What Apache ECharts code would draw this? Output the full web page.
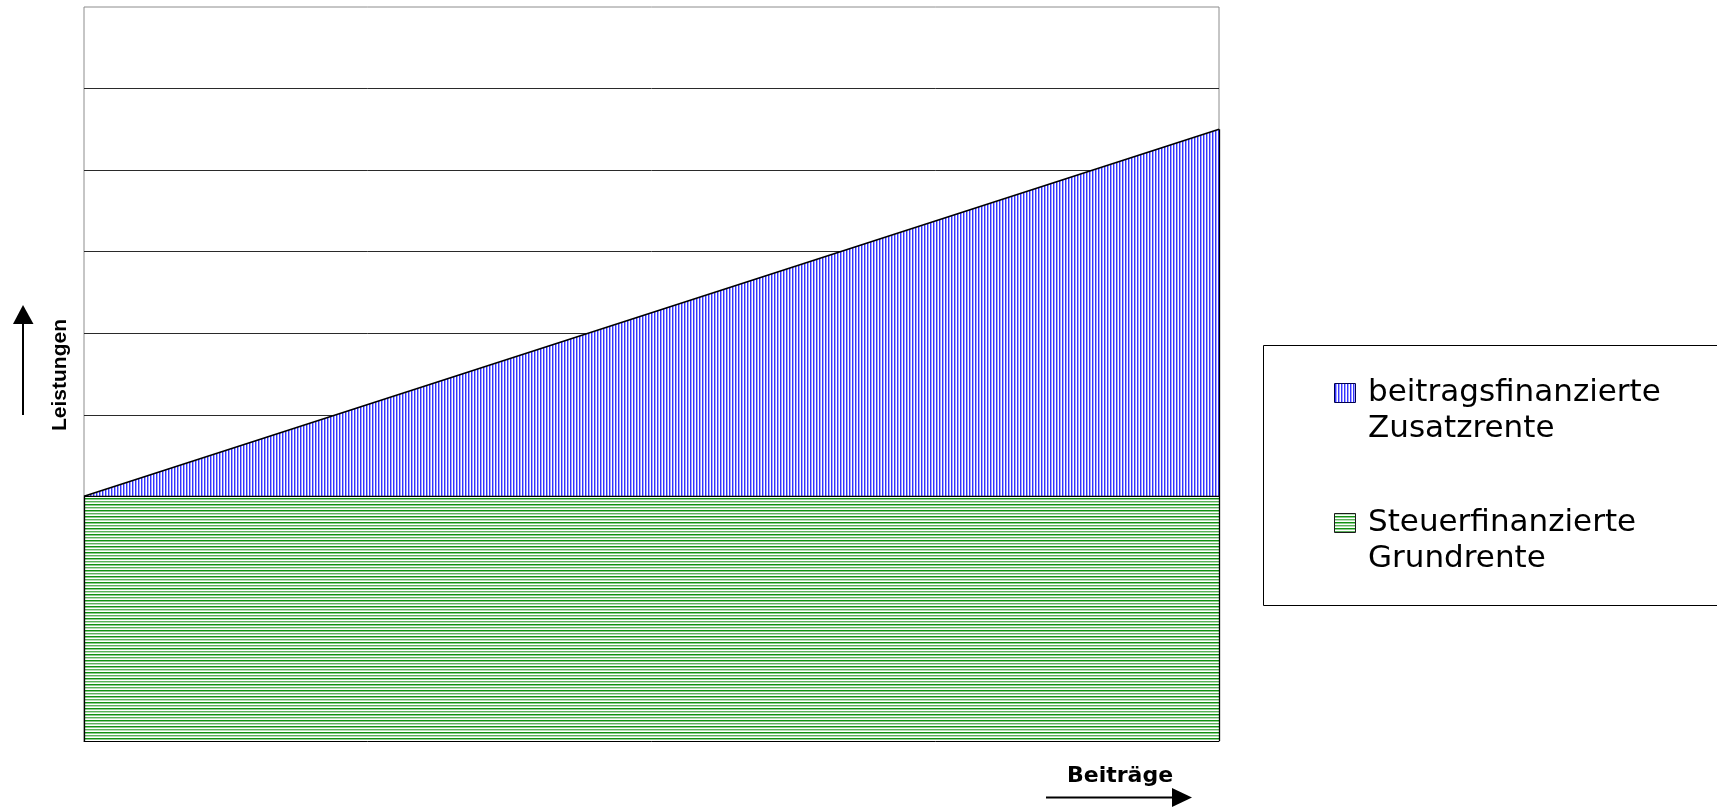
<!DOCTYPE html>
<html>
<head>
<meta charset="utf-8">
<script src="https://cdn.jsdelivr.net/npm/echarts@6/dist/echarts.min.js"></script>
<style>
html,body{margin:0;padding:0;background:#fff;}
#chart{width:1717px;height:808px;}
</style>
</head>
<body>
<div id="chart"></div>
<script>
// ---- data ----
const beitraege = ['niedrig', 'hoch'];          // x categories (not labelled)
const grundrente = [3, 3];                      // Steuerfinanzierte Grundrente
const zusatzrente = [0, 4.5];                   // beitragsfinanzierte Zusatzrente
const yMin = 0, yMax = 9, yStep = 1;
const legendLines = [
  ['beitragsfinanzierte', 'Zusatzrente'],
  ['Steuerfinanzierte', 'Grundrente']
];
const xAxisTitle = 'Beiträge';
const yAxisTitle = 'Leistungen';

// ---- patterns ----
function makePattern(w, h, draw) {
  const c = document.createElement('canvas');
  c.width = w; c.height = h;
  const ctx = c.getContext('2d');
  ctx.fillStyle = '#ffffff';
  ctx.fillRect(0, 0, w, h);
  draw(ctx);
  return c;
}
const bluePat = makePattern(3, 1, ctx => {
  ctx.fillStyle = '#3434ff'; ctx.fillRect(0, 0, 1, 1);
  ctx.fillStyle = '#a6a6ff'; ctx.fillRect(1, 0, 1, 1);
});
const greenPat = makePattern(1, 6, ctx => {
  ctx.fillStyle = '#119211'; ctx.fillRect(0, 0, 1, 1);
  ctx.fillStyle = '#8fcb8f'; ctx.fillRect(0, 1, 1, 1);
  ctx.fillStyle = '#5cb05c'; ctx.fillRect(0, 3, 1, 1);
  ctx.fillStyle = '#b9dfb9'; ctx.fillRect(0, 4, 1, 1);
});
const blueFill = { image: bluePat, repeat: 'repeat' };
const greenFill = { image: greenPat, repeat: 'repeat' };

const last = beitraege.length - 1;
const chart = echarts.init(document.getElementById('chart'), null, { renderer: 'canvas' });

const legendFont = '31px "DejaVu Sans"';
const option = {
  animation: false,
  backgroundColor: '#ffffff',
  grid: {
    left: 84, top: 7, right: 498, bottom: 67,
    show: true, borderColor: '#8c8c8c', borderWidth: 1, backgroundColor: '#ffffff'
  },
  xAxis: {
    type: 'category', data: beitraege, boundaryGap: false,
    axisLine: { show: true, lineStyle: { color: '#000', width: 1 } },
    axisTick: { show: false }, axisLabel: { show: false }, splitLine: { show: false }
  },
  yAxis: {
    type: 'value', min: yMin, max: yMax, interval: yStep,
    axisLine: { show: false }, axisTick: { show: false }, axisLabel: { show: false },
    splitLine: { show: true, showMinLine: false, showMaxLine: false, lineStyle: { color: '#2a2a2a', width: 1 } }
  },
  series: [
    {
      name: legendLines[1].join(' '), type: 'line', stack: 'total', data: grundrente,
      symbol: 'none', silent: true,
      lineStyle: { color: '#000', width: 1.3 },
      areaStyle: { color: greenFill, opacity: 1 },
      emphasis: { disabled: true }
    },
    {
      name: legendLines[0].join(' '), type: 'line', stack: 'total', data: zusatzrente,
      symbol: 'none', silent: true,
      lineStyle: { color: '#000', width: 1.5 },
      areaStyle: { color: blueFill, opacity: 1 },
      emphasis: { disabled: true },
      markLine: {
        silent: true, symbol: 'none', label: { show: false },
        lineStyle: { color: '#000', width: 1.3, type: 'solid' },
        data: [
          [{ coord: [0, 0] }, { coord: [0, grundrente[0] + zusatzrente[0]] }],
          [{ coord: [last, 0] }, { coord: [last, grundrente[last] + zusatzrente[last]] }]
        ]
      }
    }
  ],
  graphic: [
    // legend box
    { type: 'rect', shape: { x: 1263.5, y: 345.5, width: 600, height: 260 },
      style: { fill: '#fff', stroke: '#000', lineWidth: 1 }, z: 10 },
    { type: 'rect', shape: { x: 1334.5, y: 383.5, width: 21, height: 19 },
      style: { fill: blueFill, stroke: '#000050', lineWidth: 1 }, z: 11 },
    { type: 'text', x: 1368, y: 411, z: 11,
      style: { text: legendLines[0].join('\n'), font: legendFont, fill: '#000',
               align: 'left', verticalAlign: 'middle', lineHeight: 36 } },
    { type: 'rect', shape: { x: 1334.5, y: 513.5, width: 21, height: 19 },
      style: { fill: greenFill, stroke: '#1a1a1a', lineWidth: 1 }, z: 11 },
    { type: 'text', x: 1368, y: 541, z: 11,
      style: { text: legendLines[1].join('\n'), font: legendFont, fill: '#000',
               align: 'left', verticalAlign: 'middle', lineHeight: 36 } },
    // x axis title + arrow
    { type: 'text', x: 1120, y: 787, z: 11,
      style: { text: xAxisTitle, font: 'bold 22px "DejaVu Sans"', fill: '#000',
               align: 'center', verticalAlign: 'bottom' } },
    { type: 'line', shape: { x1: 1046, y1: 797.5, x2: 1174, y2: 797.5 },
      style: { stroke: '#000', lineWidth: 2 }, z: 11 },
    { type: 'polygon', shape: { points: [[1172, 788], [1192, 797.5], [1172, 807]] },
      style: { fill: '#000' }, z: 11 },
    // y axis title + arrow
    { type: 'text', x: 60, y: 375, rotation: Math.PI / 2, z: 11,
      style: { text: yAxisTitle, font: 'bold 21px "Liberation Sans"', fill: '#000',
               align: 'center', verticalAlign: 'middle' } },
    { type: 'line', shape: { x1: 23, y1: 322, x2: 23, y2: 415 },
      style: { stroke: '#000', lineWidth: 2 }, z: 11 },
    { type: 'polygon', shape: { points: [[13, 324], [23, 305], [33.5, 324]] },
      style: { fill: '#000' }, z: 11 }
  ]
};
chart.setOption(option);
</script>
</body>
</html>
